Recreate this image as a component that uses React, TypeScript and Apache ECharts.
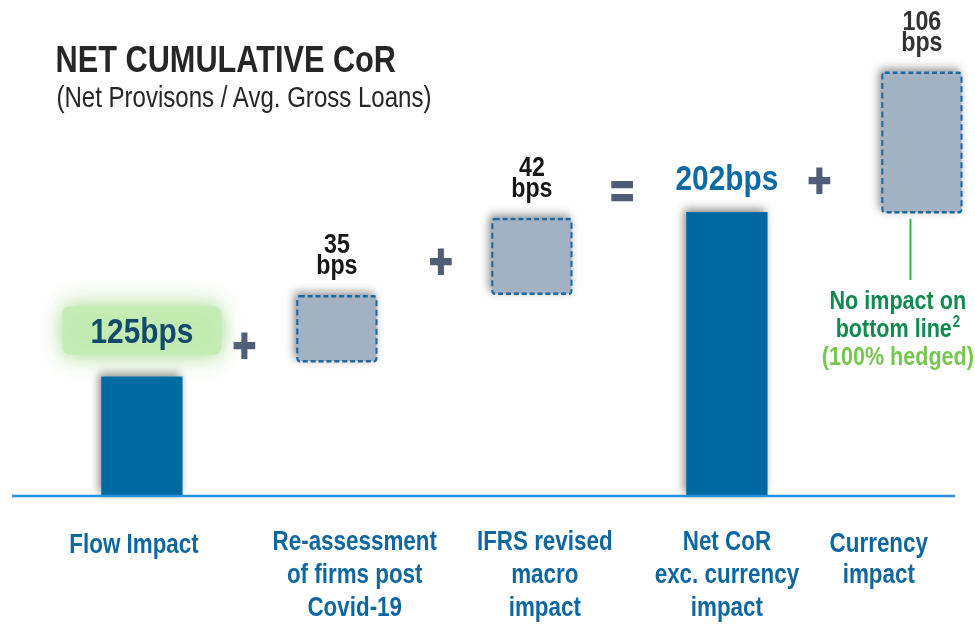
import React, { useEffect, useRef } from "react";
import * as echarts from "echarts";

// ---- data ----
const categories = [
  "Flow Impact",
  "Re-assessment\nof firms post\nCovid-19",
  "IFRS revised\nmacro\nimpact",
  "Net CoR\nexc. currency\nimpact",
  "Currency\nimpact",
];
// values printed on the slide (bps)
const bpsValues = [125, 35, 42, 202, 106];
// The slide is not drawn to scale: extents of each bar/box as drawn,
// in units of the Net CoR bar (drawn height = 202)
const drawnLow = [0, 95, 143, 0, 201];
const drawnHigh = [85, 143, 198, 202, 302];
const operators = ["+", "+", "=", "+"];

const title = "NET CUMULATIVE CoR";
const subtitle = "(Net Provisons / Avg. Gross Loans)";
const noteLines = ["No impact on", "bottom line", "(100% hedged)"];
const noteSup = "2";

const FONT = "'Liberation Sans', Arial, sans-serif";

// the slide is horizontally condensed: draw on a wider canvas and squeeze it
const OUT_W = 975;
const H = 624;
const INNER_W = 1175;
const SX = OUT_W / INNER_W;

export default function App() {
  const ref = useRef<HTMLDivElement>(null);

  useEffect(() => {
    if (!ref.current) return;
    const chart = echarts.init(ref.current, undefined, { renderer: "svg" });

    const shadow = {
      shadowBlur: 10,
      shadowColor: "rgba(0,0,0,0.45)",
      shadowOffsetX: -3,
      shadowOffsetY: -3,
    };
    const solidStyle = { color: "#0669a2", ...shadow };
    const boxStyle = {
      color: "#a2b1c3",
      borderColor: "#1c67a0",
      borderWidth: 2.5,
      borderType: [6, 3.5],
      borderRadius: 3,
      ...shadow,
    };

    const labelFor = (i: number) => {
      const isTotal = drawnLow[i] === 0;
      if (isTotal && i === 0) {
        return {
          show: true,
          position: "top",
          distance: 22,
          formatter: `${bpsValues[i]}bps`,
          fontFamily: FONT,
          fontWeight: "bold",
          fontSize: 36,
          lineHeight: 36,
          color: "#124a6c",
          backgroundColor: "rgba(196,236,180,0.95)",
          padding: [6, 34],
          borderRadius: 8,
          shadowBlur: 24,
          shadowColor: "rgba(140,210,110,0.95)",
        };
      }
      if (isTotal) {
        return {
          show: true,
          position: "top",
          distance: 17,
          formatter: `${bpsValues[i]}bps`,
          fontFamily: FONT,
          fontWeight: "bold",
          fontSize: 36,
          lineHeight: 36,
          color: "#0d6aa5",
        };
      }
      return {
        show: true,
        position: "top",
        distance: 20,
        formatter: `${bpsValues[i]}\nbps`,
        fontFamily: FONT,
        fontWeight: "bold",
        fontSize: 28,
        lineHeight: 21,
        color: i === 4 ? "#333333" : "#161616",
      };
    };

    // per-label nudges [top, right, bottom, left] (the slide's labels are not centred on the bars)
    const labelPad: number[][] = [
      [6, 19, 0, 0],
      [0, 0, 0, 43],
      [0, 0, 0, 31],
      [0, 0, 0, 0],
      [4, 104, 0, 0],
    ];
    const rich: Record<string, any> = {};
    labelPad.forEach((p, i) => {
      const base = {
        fontFamily: FONT,
        fontWeight: "bold",
        fontSize: 27,
        lineHeight: 33,
        color: "#0f67a0",
      };
      rich[`a${i}`] = { ...base, padding: p };
      rich[`b${i}`] = { ...base, padding: [0, p[1], 0, p[3]] };
    });

    // operator glyph centres (inner canvas pixels)
    const opPos = [
      [294.6, 345],
      [531.4, 261],
      [749.6, 191],
      [987.6, 180],
    ];

    chart.setOption({
      animation: false,
      backgroundColor: "#ffffff",
      title: [
        {
          text: title,
          left: 62,
          top: 35,
          textStyle: {
            fontFamily: FONT,
            fontWeight: "bold",
            fontSize: 37,
            color: "#262626",
          },
        },
        {
          text: subtitle,
          left: 63,
          top: 78,
          textStyle: {
            fontFamily: FONT,
            fontWeight: "normal",
            fontSize: 29,
            color: "#262626",
          },
        },
      ],
      grid: {
        left: 171,
        right: 64,
        top: 4,
        bottom: 128,
        containLabel: false,
        outerBoundsMode: "none",
      },
      xAxis: {
        type: "category",
        data: categories,
        boundaryGap: false,
        axisLine: { show: false },
        axisTick: { show: false },
        splitLine: { show: false },
        axisLabel: {
          interval: 0,
          margin: 28,
          hideOverlap: false,
          formatter: (v: string, i: number) =>
            v
              .split("\n")
              .map((l, k) => (k === 0 ? `{a${i}|${l}}` : `{b${i}|${l}}`))
              .join("\n"),
          rich,
        },
      },
      yAxis: {
        type: "value",
        min: 0,
        max: 350,
        show: false,
        splitLine: { show: false },
      },
      series: [
        {
          type: "bar",
          name: "base",
          stack: "waterfall",
          barWidth: 98,
          clip: false,
          silent: true,
          itemStyle: { color: "transparent" },
          emphasis: { disabled: true },
          data: drawnLow,
        },
        {
          type: "bar",
          name: "CoR",
          stack: "waterfall",
          barWidth: 98,
          clip: false,
          emphasis: { disabled: true },
          data: drawnHigh.map((h, i) => ({
            value: h - drawnLow[i],
            itemStyle: drawnLow[i] === 0 ? solidStyle : boxStyle,
            label: labelFor(i),
          })),
        },
      ],
      graphic: [
        {
          type: "line",
          shape: { x1: 14.5, y1: 496, x2: 1151, y2: 496 },
          style: { stroke: "#2a90d9", lineWidth: 2.5 },
          z: 10,
        },
        ...operators.map((op, k) => ({
          type: "text",
          x: opPos[k][0],
          y: opPos[k][1],
          style: {
            text: op,
            align: "center",
            verticalAlign: "middle",
            fontFamily: FONT,
            fontWeight: "bold",
            fontSize: 48,
            fill: "#4f5e77",
            stroke: "#4f5e77",
            lineWidth: 2,
          },
        })),
        {
          type: "line",
          shape: { x1: 1097.2, y1: 219, x2: 1097.2, y2: 280 },
          style: { stroke: "#2cbb4c", lineWidth: 2.5 },
        },
        {
          type: "text",
          x: 1082,
          y: 285,
          style: {
            text: `{d|${noteLines[0]}}\n{d|${noteLines[1]}}{s|${noteSup}}\n{l|${noteLines[2]}}`,
            align: "center",
            verticalAlign: "top",
            rich: {
              d: {
                fontFamily: FONT,
                fontWeight: "bold",
                fontSize: 26,
                lineHeight: 28.5,
                fill: "#108a4f",
              },
              s: {
                fontFamily: FONT,
                fontWeight: "bold",
                fontSize: 16,
                lineHeight: 28.5,
                fill: "#108a4f",
                verticalAlign: "top",
                padding: [0, 0, 10, 1],
              },
              l: {
                fontFamily: FONT,
                fontWeight: "bold",
                fontSize: 26,
                lineHeight: 28.5,
                fill: "#76c651",
              },
            },
          },
        },
      ],
    });

    return () => chart.dispose();
  }, []);

  return (
    <div
      style={{
        position: "fixed",
        left: 0,
        top: 0,
        width: OUT_W,
        height: H,
        overflow: "hidden",
        background: "#ffffff",
      }}
    >
      <div
        ref={ref}
        style={{
          width: INNER_W,
          height: H,
          transform: `scaleX(${SX})`,
          transformOrigin: "0 0",
        }}
      />
    </div>
  );
}
